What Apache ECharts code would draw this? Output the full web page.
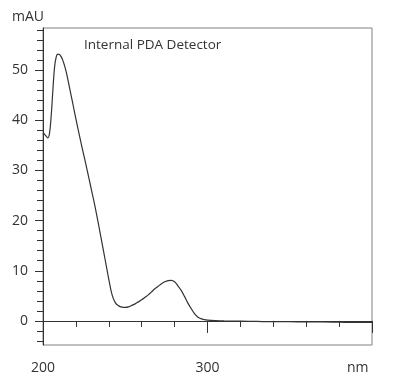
<!DOCTYPE html>
<html><head><meta charset="utf-8">
<script src="https://cdn.jsdelivr.net/npm/echarts@6/dist/echarts.min.js"></script>
<style>html,body{margin:0;padding:0;background:#fff}#c{width:400px;height:390px}</style>
</head><body><div id="c"></div>
<script>
const wavelengths = [200,201,202,203,204,205,206,207,208,209,210,211,212,213,214,215,216,217,218,219,220,222,224,226,228,230,232,234,236,238,240,242,244,246,248,250,252,254,256,258,260,262,264,266,268,270,272,274,276,278,280,282,284,286,288,290,292,294,296,298,300,305,310,320,330,340,350,360,370,380,390,400];
const absorbance = [37.5,37.2,36.8,36.5,37.5,41.0,46.0,50.5,52.6,53.2,53.1,52.7,52.0,51.0,49.8,48.3,46.7,45.1,43.5,41.9,40.3,37.2,34.2,31.3,28.3,25.3,22.2,18.8,15.3,11.8,8.3,5.2,3.6,3.0,2.75,2.7,2.8,3.1,3.4,3.8,4.2,4.7,5.2,5.8,6.4,6.9,7.4,7.8,8.05,8.1,7.8,7.0,6.1,4.9,3.6,2.5,1.5,0.8,0.45,0.25,0.15,0.05,0.0,-0.05,-0.1,-0.15,-0.15,-0.2,-0.2,-0.25,-0.3,-0.3];
const xMajorTicks = [200,300,400];
const xLabelTicks = [200,300];
const xMinorTicks = [220,240,260,280,320,340,360,380];
const yMajorTicks = [0,10,20,30,40,50];
const yMinorTicks = [-4,-2,2,4,6,8,12,14,16,18,22,24,26,28,32,34,36,38,42,44,46,48,52,54,56,58];
const yMin = -4.8, yMax = 58.4;

const FONT = '"Open Sans", sans-serif';
const TXT = '#333';
const chart = echarts.init(document.getElementById('c'), null, {renderer:'canvas'});
chart.setOption({
  animation:false,
  grid:{left:43, top:28, right:28, bottom:45, show:true, borderColor:'#808080', borderWidth:1},
  xAxis:[
    {type:'value', min:200, max:400, position:'bottom',
     axisLine:{lineStyle:{color:'#333', width:1}},
     axisTick:{customValues:xMajorTicks, length:12, lineStyle:{color:'#333'}},
     axisLabel:{customValues:xLabelTicks, margin:16, color:TXT, fontSize:14, fontFamily:FONT},
     splitLine:{show:false}},
    {type:'value', min:200, max:400, position:'bottom', offset:0,
     axisLine:{show:false},
     axisTick:{customValues:xMinorTicks, length:6, lineStyle:{color:'#333'}},
     axisLabel:{show:false}, splitLine:{show:false}}
  ],
  yAxis:[
    {type:'value', min:yMin, max:yMax, position:'left',
     axisLine:{show:true, lineStyle:{color:'#333', width:1}},
     axisTick:{show:true, customValues:yMajorTicks, length:8, lineStyle:{color:'#333'}},
     axisLabel:{customValues:yMajorTicks, margin:15, color:TXT, fontSize:14, fontFamily:FONT},
     splitLine:{show:false}},
    {type:'value', min:yMin, max:yMax, position:'left', offset:0,
     axisLine:{show:false},
     axisTick:{show:true, customValues:yMinorTicks, length:6, lineStyle:{color:'#333'}},
     axisLabel:{show:false}, splitLine:{show:false}}
  ],
  graphic:[
    {type:'text', left:12, top:10, style:{text:'mAU', font:'14px '+FONT, fill:TXT}},
    {type:'text', left:347, top:361, style:{text:'nm', font:'14px '+FONT, fill:TXT}},
    {type:'text', left:84, top:38, style:{text:'Internal PDA Detector', font:'13.5px '+FONT, fill:TXT}}
  ],
  series:[{
    type:'line', xAxisIndex:0, yAxisIndex:0, smooth:0.4, symbol:'none',
    lineStyle:{color:'#333', width:1.2},
    data: wavelengths.map((w,i)=>[w, absorbance[i]])
  }]
});
</script></body></html>
